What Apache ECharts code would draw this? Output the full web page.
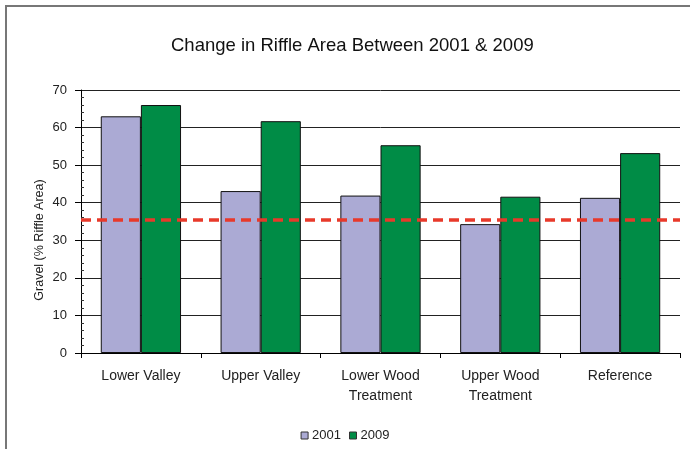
<!DOCTYPE html>
<html>
<head>
<meta charset="utf-8">
<script src="https://cdn.jsdelivr.net/npm/echarts@6/dist/echarts.min.js"></script>
<style>
html,body{margin:0;padding:0;background:#fff;}
#chart{width:690px;height:449px;}
</style>
</head>
<body>
<div id="chart"></div>
<script>
var categories = ['Lower Valley', 'Upper Valley', 'Lower Wood\nTreatment', 'Upper Wood\nTreatment', 'Reference'];
var values2001 = [63, 43.1, 41.9, 34.3, 41.3];
var values2009 = [66, 61.7, 55.3, 41.6, 53.2];
var seriesNames = ['2001', '2009'];
var thresholdValue = 35.4;
var yMin = 0, yMax = 70, yInterval = 10;
var yAxisTitle = 'Gravel (% Riffle Area)';

var chart = echarts.init(document.getElementById('chart'), null, {renderer: 'canvas'});
var font = 'Liberation Sans, Arial, sans-serif';
chart.setOption({
  animation: false,
  backgroundColor: '#fff',
  title: {
    text: 'Change in Riffle Area Between 2001 & 2009',
    left: 166,
    top: 31,
    textStyle: {fontFamily: font, fontSize: 18.5, fontWeight: 'normal', color: '#111'}
  },
  graphic: [{
    type: 'rect',
    shape: {x: 6, y: 6, width: 720, height: 480},
    style: {fill: 'none', stroke: '#777', lineWidth: 2},
    silent: true
  }, {
    type: 'text',
    x: 40, y: 240,
    rotation: Math.PI / 2,
    style: {text: yAxisTitle, font: '12.5px Liberation Sans, Arial, sans-serif', fill: '#222', align: 'center', verticalAlign: 'middle'},
    silent: true
  }],
  legend: {
    data: seriesNames,
    top: 424,
    left: 'center',
    itemWidth: 7,
    itemHeight: 7,
    itemGap: 8,
    icon: 'rect',
    textStyle: {fontFamily: font, fontSize: 13, color: '#222', padding: [0, 0, 0, -1]},
    itemStyle: {borderColor: '#333', borderWidth: 1}
  },
  grid: {left: 81, right: 10, top: 90, bottom: 96, containLabel: false},
  xAxis: {
    type: 'category',
    data: categories,
    axisLine: {lineStyle: {color: '#000', width: 1}},
    axisTick: {show: true, length: 5, lineStyle: {color: '#000'}},
    axisLabel: {fontFamily: font, fontSize: 14, color: '#222', margin: 13, lineHeight: 20, interval: 0}
  },
  yAxis: [{
    type: 'value',
    min: yMin, max: yMax, interval: yInterval,
    axisLine: {show: true, lineStyle: {color: '#000'}},
    axisTick: {show: true, length: 6, lineStyle: {color: '#000'}},
    axisLabel: {fontFamily: font, fontSize: 13, color: '#222', margin: 14},
    splitLine: {show: true, lineStyle: {color: '#222', width: 1}}
  }, {
    type: 'value',
    position: 'left',
    min: yMin, max: yMax, interval: yInterval,
    axisLine: {show: false},
    axisLabel: {show: false},
    splitLine: {show: false},
    axisTick: {show: false, inside: true},
    minorTick: {show: true, splitNumber: 5, length: 3, lineStyle: {color: '#333'}}
  }],
  series: [{
    name: seriesNames[0],
    type: 'bar',
    data: values2001,
    barGap: '0%',
    barCategoryGap: '33%',
    itemStyle: {color: '#ABAAD4', borderColor: '#111', borderWidth: 1},
    markLine: {
      silent: true,
      symbol: 'none',
      label: {show: false},
      lineStyle: {color: '#E8392A', type: [10, 6], width: 3.5},
      data: [{yAxis: thresholdValue}]
    },
    z: 2
  }, {
    name: seriesNames[1],
    type: 'bar',
    data: values2009,
    itemStyle: {color: '#008C46', borderColor: '#111', borderWidth: 1},
    z: 2
  }]
});
</script>
</body>
</html>
